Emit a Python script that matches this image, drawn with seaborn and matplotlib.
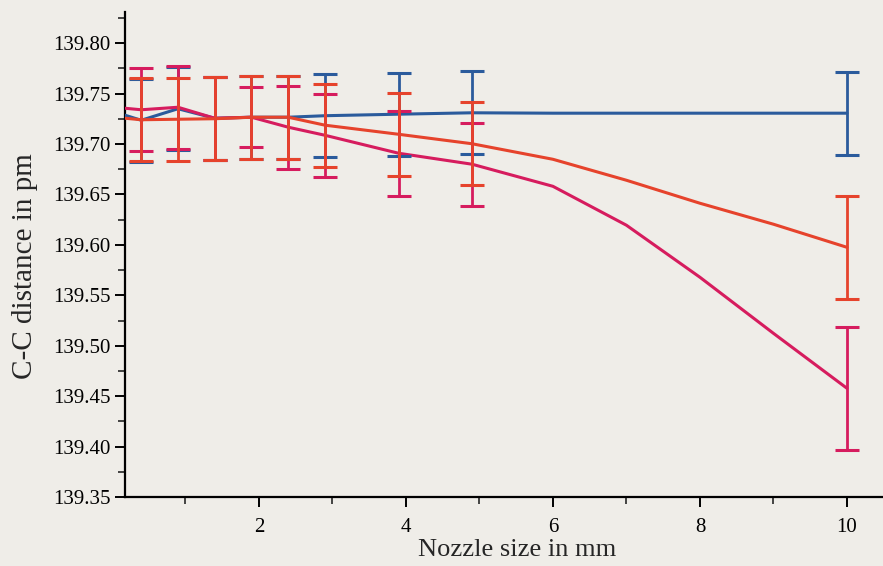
import matplotlib
matplotlib.use("Agg")
import pandas as pd
import matplotlib.pyplot as plt
import seaborn as sns
from matplotlib.ticker import MultipleLocator, AutoMinorLocator, FormatStrFormatter

# nozzle sizes (mm) where error bars are drawn
nozzle = [0.4, 0.9, 1.4, 1.9, 2.4, 2.9, 3.9, 4.9, 10.0]

# C-C distance (pm) at each nozzle size
blue_cc = [139.7236, 139.7350, 139.7256, 139.7266, 139.7266, 139.7281, 139.7296, 139.7310, 139.7306]
red_cc = [139.7241, 139.7246, 139.7251, 139.7266, 139.7266, 139.7187, 139.7097, 139.7003, 139.5976]
magenta_cc = [139.7340, 139.7365, 139.7256, 139.7266, 139.7167, 139.7087, 139.6909, 139.6800, 139.4578]

blue_err = [0.041, 0.041, 0.041, 0.041, 0.041, 0.041, 0.041, 0.041, 0.041]
red_err = [0.041, 0.041, 0.041, 0.041, 0.041, 0.041, 0.041, 0.041, 0.051]
magenta_err = [0.041, 0.041, 0.041, 0.030, 0.041, 0.041, 0.042, 0.041, 0.061]

# extra positions (left edge and the 6-9 mm stretch)
edge_x = [0.18]
blue_edge = [139.7286]
red_edge = [139.7256]
magenta_edge = [139.7355]

mid_x = [6, 7, 8, 9]
blue_mid = [139.7306, 139.7306, 139.7306, 139.7306]
red_mid = [139.6849, 139.6641, 139.6413, 139.6205]
magenta_mid = [139.6581, 139.6195, 139.5679, 139.5123]

colors = {"blue": "#2b5b9c", "magenta": "#d61c5e", "red": "#e6432c"}

# long table for seaborn
rows = []
for name, cc, edge, mid in [("blue", blue_cc, blue_edge, blue_mid),
                            ("magenta", magenta_cc, magenta_edge, magenta_mid),
                            ("red", red_cc, red_edge, red_mid)]:
    xs = edge_x + nozzle + mid_x
    ys = edge + cc + mid
    for x, y in zip(xs, ys):
        rows.append({"series": name, "nozzle": x, "cc": y})
df = pd.DataFrame(rows)

sns.set_theme(style="ticks")
plt.rcParams['font.family'] = ['Liberation Serif', 'DejaVu Serif']
bg = "#efede8"

fig = plt.figure(figsize=(8.83, 5.66), dpi=100, facecolor=bg)
ax = fig.add_axes([0.1416, 0.1219, 0.8584, 0.857])
ax.set_facecolor(bg)

sns.lineplot(data=df, x="nozzle", y="cc", hue="series", palette=colors,
             hue_order=["blue", "magenta", "red"], sort=True,
             linewidth=2.2, legend=False, ax=ax, zorder=3)

for name, cc, err in [("blue", blue_cc, blue_err),
                      ("magenta", magenta_cc, magenta_err),
                      ("red", red_cc, red_err)]:
    ax.errorbar(nozzle, cc, yerr=err, fmt="none", ecolor=colors[name],
                elinewidth=2.0, capsize=8.5, capthick=2.2, zorder=4)

ax.set_xlim(0.18, 10.49)
ax.set_ylim(139.35, 139.831)

ax.yaxis.set_major_locator(MultipleLocator(0.05))
ax.yaxis.set_minor_locator(AutoMinorLocator(2))
ax.yaxis.set_major_formatter(FormatStrFormatter("%.2f"))
ax.xaxis.set_major_locator(MultipleLocator(2))
ax.xaxis.set_minor_locator(MultipleLocator(1))

ax.tick_params(axis="both", which="major", direction="out", length=7, width=1.4,
               labelsize=15, colors="black")
ax.tick_params(axis="both", which="minor", direction="out", length=5, width=1.2)
ax.tick_params(axis="x", which="major", pad=8)

for side in ["top", "right"]:
    ax.spines[side].set_visible(False)
for side in ["left", "bottom"]:
    ax.spines[side].set_linewidth(1.6)
    ax.spines[side].set_color("black")

ax.set_xlabel("Nozzle size in mm", fontsize=19)
ax.set_ylabel("C-C distance in pm", fontsize=21)
ax.xaxis.set_label_coords(0.517, -0.087)
ax.yaxis.set_label_coords(-0.115, 0.476)

fig.savefig("out.png", dpi=100, facecolor=bg)
